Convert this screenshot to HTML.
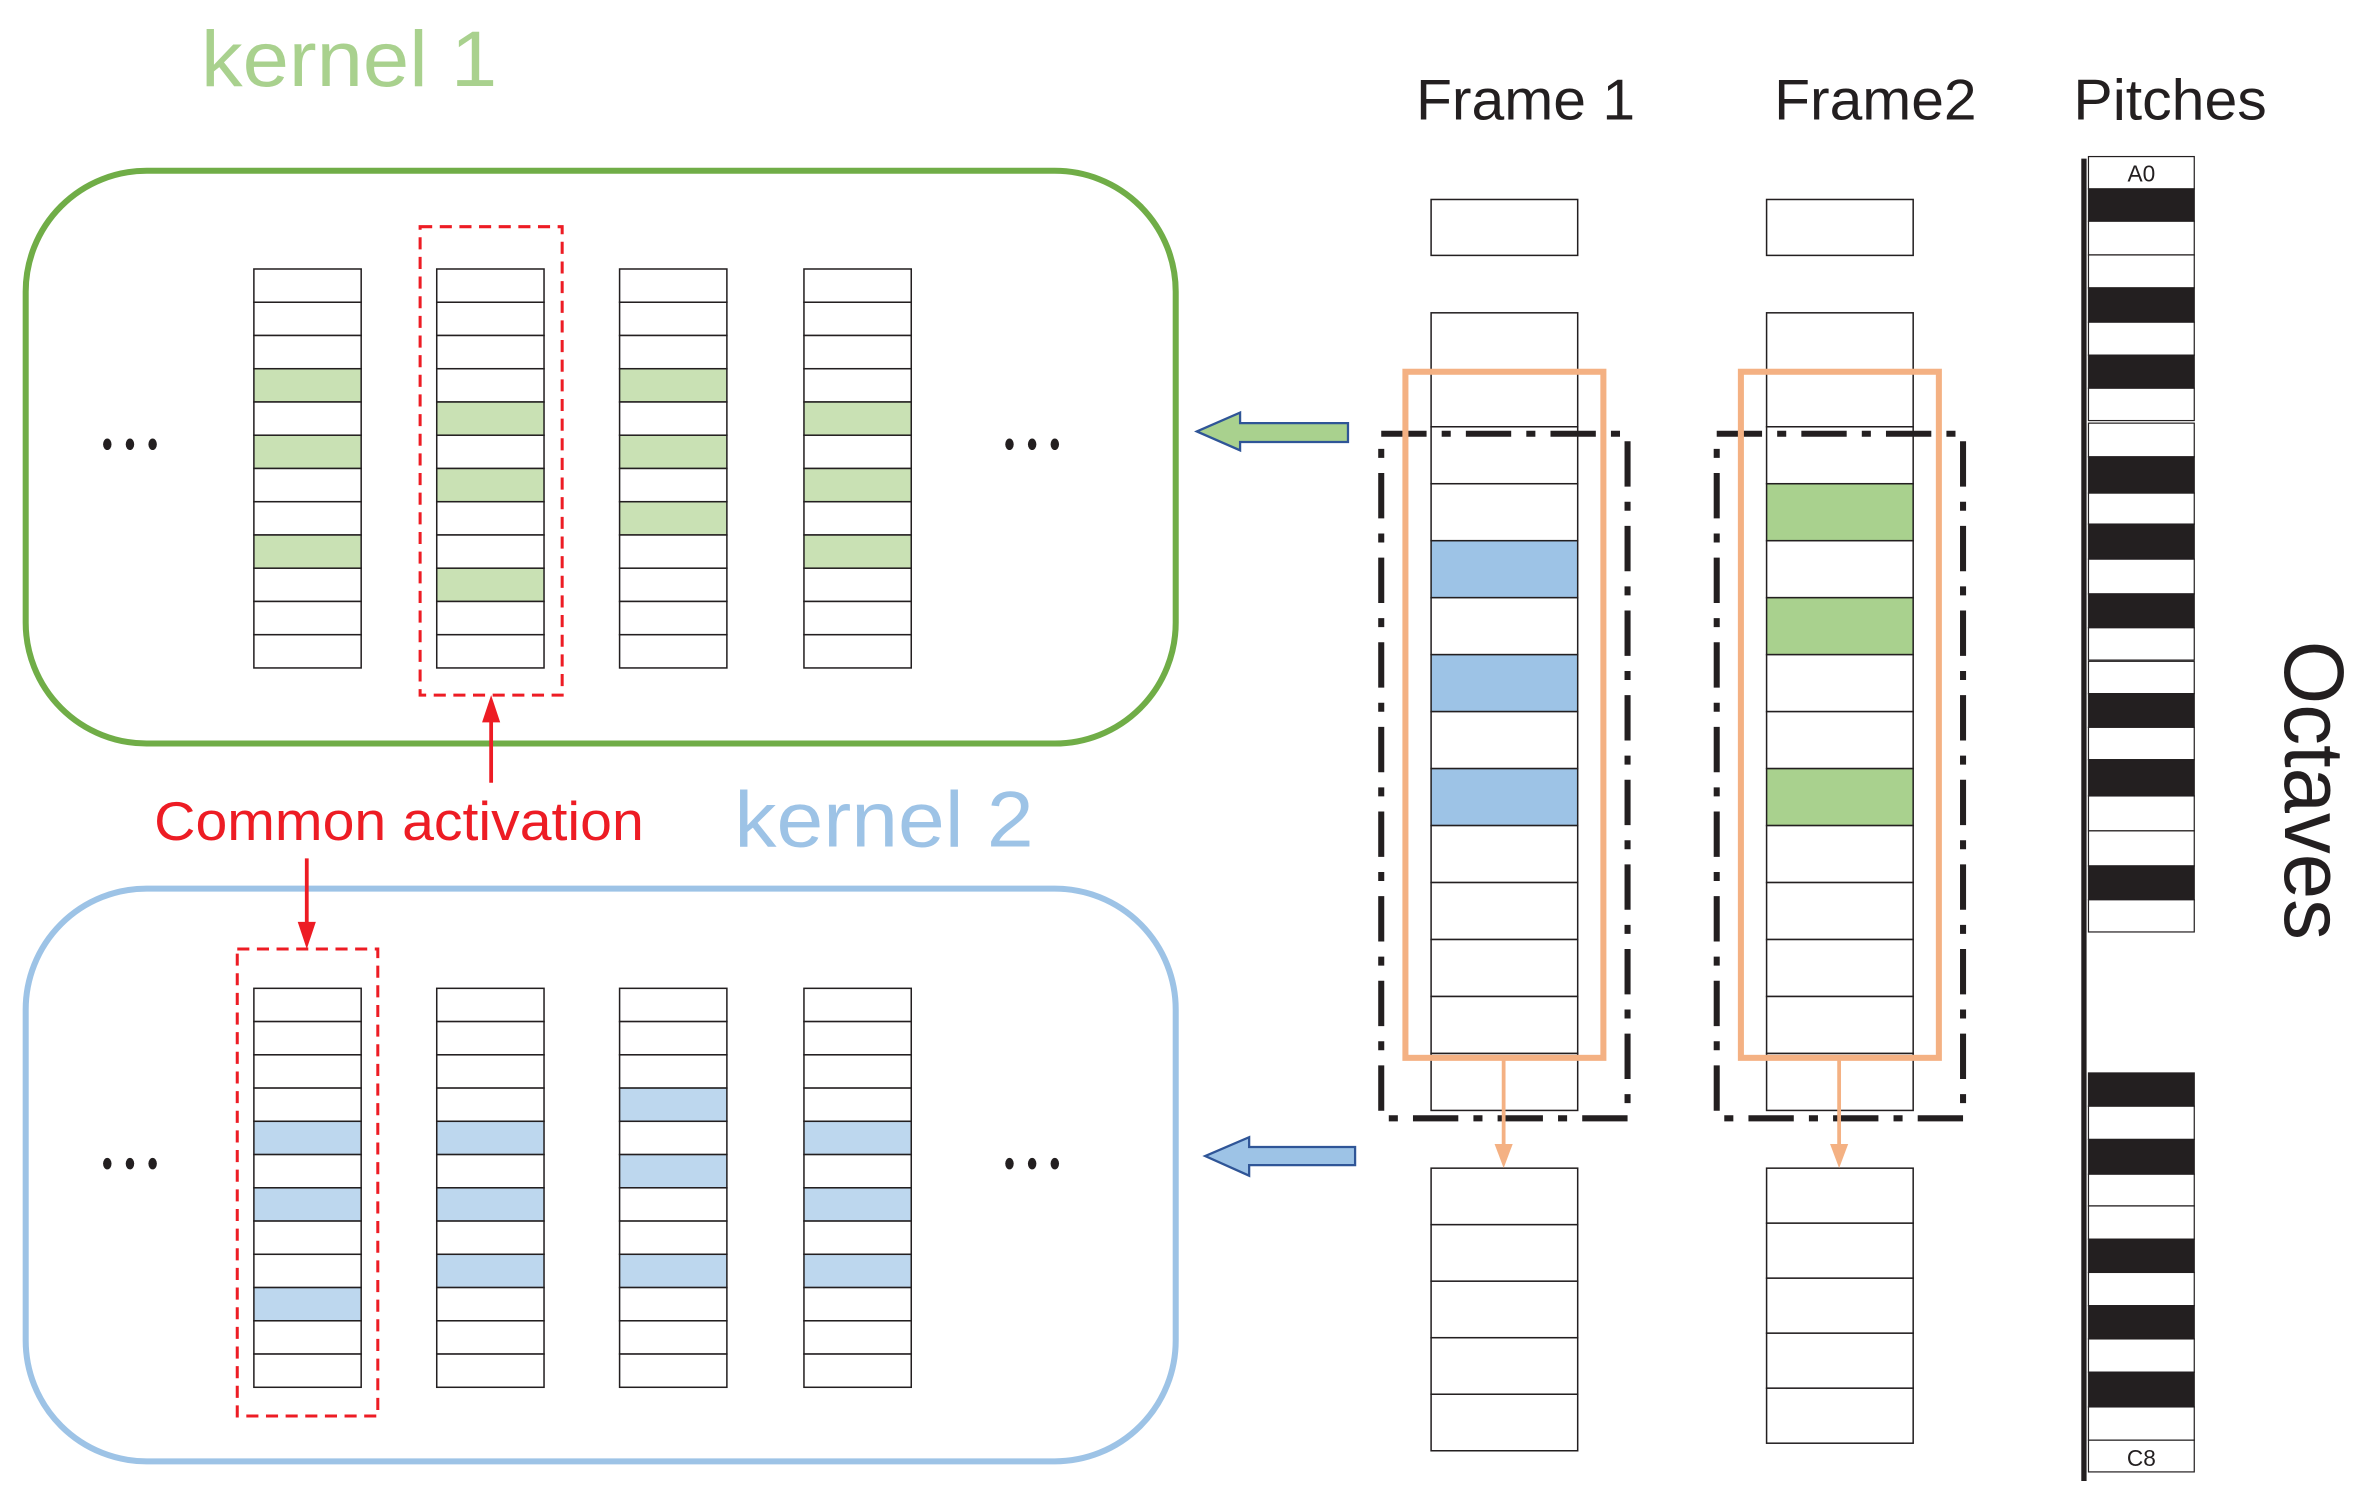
<!DOCTYPE html>
<html><head><meta charset="utf-8"><style>
html,body{margin:0;padding:0;background:#fff;}
svg{display:block;}
text{font-family:"Liberation Sans",sans-serif;}
</style></head><body>
<svg width="2362" height="1497" viewBox="0 0 1563 990.6" preserveAspectRatio="none" xmlns="http://www.w3.org/2000/svg">
<rect width="1563" height="991" fill="#fff"/>
<text x="133" y="57" font-size="52" fill="#a9d18e" textLength="196" lengthAdjust="spacingAndGlyphs">kernel 1</text>
<text x="486" y="560" font-size="52" fill="#9dc3e6" textLength="198" lengthAdjust="spacingAndGlyphs">kernel 2</text>
<text x="102" y="556" font-size="36" fill="#ed1c24" textLength="324" lengthAdjust="spacingAndGlyphs">Common activation</text>
<text x="937" y="79" font-size="38" fill="#231f20" textLength="145" lengthAdjust="spacingAndGlyphs">Frame 1</text>
<text x="1174" y="79" font-size="38" fill="#231f20" textLength="134" lengthAdjust="spacingAndGlyphs">Frame2</text>
<text x="1372" y="79" font-size="38" fill="#231f20" textLength="128" lengthAdjust="spacingAndGlyphs">Pitches</text>
<text transform="translate(1512,424) rotate(90)" font-size="56" fill="#231f20" textLength="198" lengthAdjust="spacingAndGlyphs">Octaves</text>

<rect x="17" y="113" width="761" height="379" rx="80" ry="80" fill="none" stroke="#70ad47" stroke-width="4"/>
<rect x="17" y="588" width="761" height="379" rx="80" ry="80" fill="none" stroke="#9dc3e6" stroke-width="4"/>

<g id="cols" stroke="#231f20" stroke-width="1"></g>

<g fill="#231f20">
<ellipse cx="71" cy="294" rx="2.8" ry="3.8"/><ellipse cx="86" cy="294" rx="2.8" ry="3.8"/><ellipse cx="101" cy="294" rx="2.8" ry="3.8"/>
<ellipse cx="668" cy="294" rx="2.8" ry="3.8"/><ellipse cx="683" cy="294" rx="2.8" ry="3.8"/><ellipse cx="698" cy="294" rx="2.8" ry="3.8"/>
<ellipse cx="71" cy="770" rx="2.8" ry="3.8"/><ellipse cx="86" cy="770" rx="2.8" ry="3.8"/><ellipse cx="101" cy="770" rx="2.8" ry="3.8"/>
<ellipse cx="668" cy="770" rx="2.8" ry="3.8"/><ellipse cx="683" cy="770" rx="2.8" ry="3.8"/><ellipse cx="698" cy="770" rx="2.8" ry="3.8"/>
</g>

<rect x="278" y="150" width="94" height="310" fill="none" stroke="#ed1c24" stroke-width="2" stroke-dasharray="8,5"/>
<rect x="157" y="628" width="93" height="309" fill="none" stroke="#ed1c24" stroke-width="2" stroke-dasharray="8,5"/>
<line x1="325" y1="518" x2="325" y2="476" stroke="#ed1c24" stroke-width="2.5"/>
<polygon points="325,460 319,478 331,478" fill="#ed1c24"/>
<line x1="203" y1="568" x2="203" y2="612" stroke="#ed1c24" stroke-width="2.5"/>
<polygon points="203,628 197,610 209,610" fill="#ed1c24"/>

<polygon points="792,285.5 820.6,273 820.6,280 892,280 892,292.5 820.6,292.5 820.6,298" fill="#a9d18e" stroke="#2f5597" stroke-width="1.5"/>
<polygon points="797.5,765 826.6,752.5 826.6,759 896.7,759 896.7,771 826.6,771 826.6,778" fill="#9dc3e6" stroke="#2f5597" stroke-width="1.5"/>

<g id="frames" stroke="#231f20" stroke-width="1"></g>

<g fill="none" stroke="#231f20" stroke-width="4" stroke-dasharray="30,10,6,10">
<rect x="914" y="287" width="163" height="453"/>
<rect x="1136" y="287" width="163" height="453"/>
</g>
<g fill="none" stroke="#f4b183" stroke-width="4">
<rect x="930" y="246" width="131" height="454"/>
<rect x="1152" y="246" width="131" height="454"/>
</g>
<g stroke="#f4b183" stroke-width="2.5">
<line x1="995" y1="700" x2="995" y2="760"/><line x1="1217" y1="700" x2="1217" y2="760"/>
</g>
<g fill="#f4b183">
<polygon points="995,773 989,757 1001,757"/><polygon points="1217,773 1211,757 1223,757"/>
</g>

<line x1="1379" y1="105" x2="1379" y2="980" stroke="#231f20" stroke-width="3.5"/>
<g id="keys" stroke="#231f20" stroke-width="0.8"></g>
<text x="1417" y="120" font-size="15" text-anchor="middle" fill="#231f20">A0</text>
<text x="1417" y="970" font-size="15" text-anchor="middle" fill="#231f20">C8</text>

<script>
var NS="http://www.w3.org/2000/svg";
function r(g,x,y,w,h,f){var e=document.createElementNS(NS,"rect");e.setAttribute("x",x);e.setAttribute("y",y);e.setAttribute("width",w);e.setAttribute("height",h);e.setAttribute("fill",f);g.appendChild(e);}
var cols=document.getElementById("cols");
var xs=[168,289,410,532];
var g1=[[3,5,8],[4,6,9],[3,5,7],[4,6,8]];
var b2=[[4,6,9],[4,6,8],[3,5,8],[4,6,8]];
for(var c=0;c<4;c++){for(var i=0;i<12;i++){
 r(cols,xs[c],178+i*22,71,22,g1[c].indexOf(i)>=0?"#c9e1b4":"#fff");
 r(cols,xs[c],654+i*22,71,22,b2[c].indexOf(i)>=0?"#bdd7ee":"#fff");
}}
var fr=document.getElementById("frames");
var fx=[947,1169];var blue=[4,6,8],green=[3,5,8];
for(var k=0;k<2;k++){
 r(fr,fx[k],132,97,37,"#fff");
 for(var i=0;i<14;i++){var s=(k==0?blue:green);r(fr,fx[k],207+i*37.7,97,37.7,s.indexOf(i)>=0?(k==0?"#9dc3e6":"#a9d18e"):"#fff");}
 for(var i=0;i<5;i++){r(fr,fx[k],773+i*(k==0?37.4:36.4),97,(k==0?37.4:36.4),"#fff");}
}
var keys=document.getElementById("keys");
var K=[[103.6,125,0],[125,146.4,1],[146.4,168.7,0],[168.7,190.5,0],[190.5,213.2,1],[213.2,235,0],[235,256.9,1],[256.9,278.3,0],[280,302.3,0],[302.3,326.3,1],[326.3,346.8,0],[346.8,370,1],[370,393,0],[393,415.4,1],[415.4,436.8,0],[437.6,459,0],[459,481.3,1],[481.3,502.7,0],[502.7,526.7,1],[526.7,549.8,0],[549.8,573,0],[573,595.4,1],[595.4,616.7,0],
[710,732,1],[732,754,0],[754,777,1],[777,798,0],[798,820,0],[820,842,1],[842,864,0],[864,886,1],[886,908,0],[908,931,1],[931,953,0],[953,974,0]];
K.forEach(function(k){r(keys,1382,k[0],70,k[1]-k[0],k[2]?"#231f20":"#fff");});
</script>
</svg>
</body></html>
